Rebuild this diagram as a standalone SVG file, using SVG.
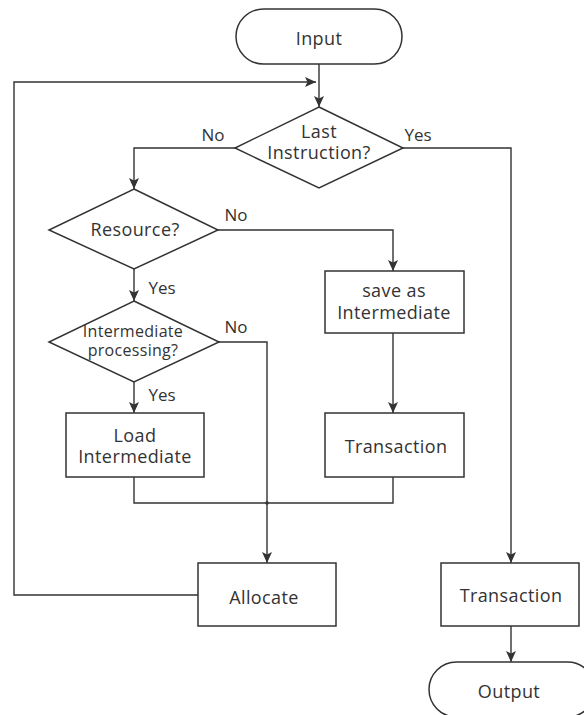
<svg xmlns="http://www.w3.org/2000/svg" width="584" height="715" viewBox="0 0 584 715">
  <style>
    .shape { fill: #ffffff; stroke: #333333; stroke-width: 1.5; }
    .line { fill: none; stroke: #333333; stroke-width: 1.4; }
    .arrow { marker-end: url(#head); }
    text { font-family: "Open Sans", "Noto Sans", "Liberation Sans", sans-serif; fill: #333333; text-anchor: middle; }
    .t { font-size: 18px; letter-spacing: 0.4px; }
    .ts { font-size: 16px; letter-spacing: 0.3px; }
    .lbl { font-size: 17px; }
  </style>
  <defs>
    <marker id="head" viewBox="0 0 11 10" refX="11" refY="5" markerWidth="11" markerHeight="10" markerUnits="userSpaceOnUse" orient="auto">
      <path d="M0,0 L11,5 L0,10 L2.5,5 z" fill="#333333"/>
    </marker>
  </defs>

  <rect width="584" height="715" fill="#ffffff"/>

  <!-- connectors -->
  <g id="connectors">
    <path class="line arrow" d="M319,64 V107"/>
    <path class="line arrow" d="M198,595 H14 V82 H316"/>
    <path class="line arrow" d="M235,148 H134 V189"/>
    <path class="line arrow" d="M403,148 H511 V563"/>
    <path class="line arrow" d="M218,230 H393 V271"/>
    <path class="line arrow" d="M134,269 V301"/>
    <path class="line arrow" d="M219,342 H267 V563"/>
    <path class="line arrow" d="M134,382 V413"/>
    <path class="line arrow" d="M393,333 V413"/>
    <path class="line" d="M134,477 V503 H393 V477"/>
    <circle cx="267" cy="503" r="1.8" fill="#333333"/>
    <path class="line arrow" d="M511,626 V662"/>
    <text class="lbl" x="213" y="141">No</text>
    <text class="lbl" x="418" y="141">Yes</text>
    <text class="lbl" x="236" y="221">No</text>
    <text class="lbl" x="162" y="294">Yes</text>
    <text class="lbl" x="236" y="333">No</text>
    <text class="lbl" x="162" y="401">Yes</text>
  </g>

  <g id="input">
    <rect class="shape" x="236" y="9" width="166" height="55" rx="27.5"/>
    <text class="t" x="319" y="45">Input</text>
  </g>

  <g id="last-instruction">
    <polygon class="shape" points="319,107 403,148 319,188 235,148"/>
    <text class="t" x="319" y="138">Last</text>
    <text class="t" x="319" y="159">Instruction?</text>
  </g>

  <g id="resource">
    <polygon class="shape" points="134,189 218,230 134,269 49,230"/>
    <text class="t" x="135" y="236">Resource?</text>
  </g>

  <g id="intermediate-processing">
    <polygon class="shape" points="134,301 219,342 134,382 49,342"/>
    <text class="ts" x="133" y="337">Intermediate</text>
    <text class="ts" x="133" y="356">processing?</text>
  </g>

  <g id="save-intermediate">
    <rect class="shape" x="325" y="271" width="139" height="62"/>
    <text class="t" x="394" y="297">save as</text>
    <text class="t" x="394" y="319">Intermediate</text>
  </g>

  <g id="transaction-mid">
    <rect class="shape" x="325" y="413" width="139" height="64"/>
    <text class="t" x="396" y="453">Transaction</text>
  </g>

  <g id="load-intermediate">
    <rect class="shape" x="66" y="413" width="138" height="64"/>
    <text class="t" x="135" y="442">Load</text>
    <text class="t" x="135" y="463">Intermediate</text>
  </g>

  <g id="allocate">
    <rect class="shape" x="198" y="563" width="138" height="63"/>
    <text class="t" x="264" y="604">Allocate</text>
  </g>

  <g id="transaction-right">
    <rect class="shape" x="441" y="563" width="138" height="63"/>
    <text class="t" x="511" y="602">Transaction</text>
  </g>

  <g id="output">
    <rect class="shape" x="429" y="662" width="166" height="55" rx="27.5"/>
    <text class="t" x="509" y="698">Output</text>
  </g>
</svg>
